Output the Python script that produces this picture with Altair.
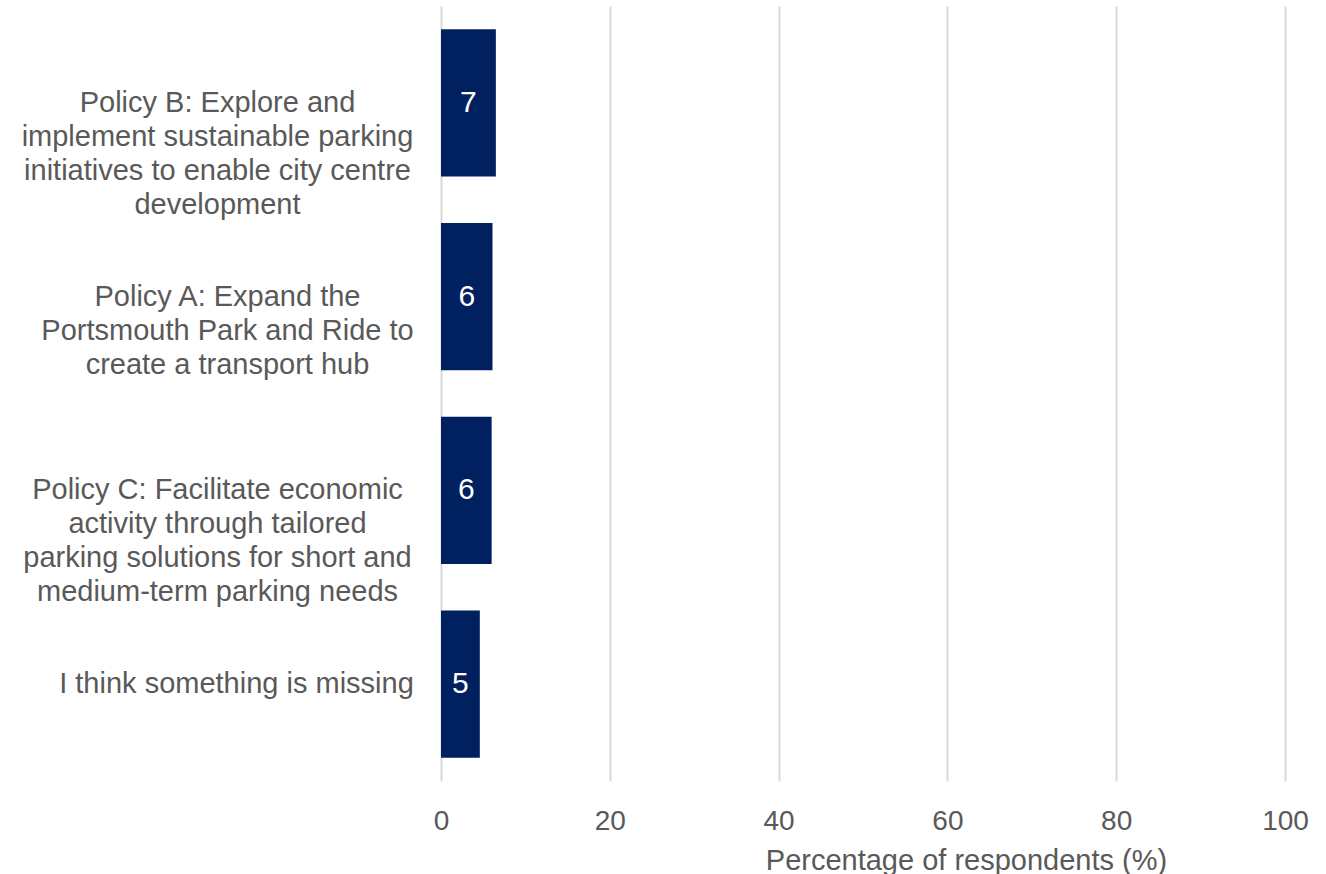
import altair as alt
import pandas as pd

categories = [
    "Policy B: Explore and|implement sustainable parking|initiatives to enable city centre|development",
    "Policy A: Expand the|Portsmouth Park and Ride to|create a transport hub",
    "Policy C: Facilitate economic|activity through tailored|parking solutions for short and|medium-term parking needs",
    "I think something is missing",
]
values = [6.5, 6.1, 6.0, 4.6]
labels = ["7", "6", "6", "5"]
tick_values = [0, 20, 40, 60, 80, 100]

df = pd.DataFrame({"category": categories, "value": values, "label": labels})

TEXT = "#595959"
BAR = "#002060"
FONT = "Liberation Sans"

pad_expr = (
    "indexof(datum.value, 'I think') == 0 ? 205 : "
    "(indexof(datum.value, 'Policy A') == 0 ? 214 : 224)"
)

y_enc = alt.Y(
    "category:N",
    sort=categories,
    scale=alt.Scale(paddingInner=0.24, paddingOuter=0.12),
    axis=alt.Axis(
        title=None,
        domain=False,
        ticks=False,
        grid=False,
        labelExpr="split(datum.label, '|')",
        labelAlign="center",
        labelBaseline="middle",
        labelPadding=alt.ExprRef(pad_expr),
        labelFontSize=29,
        labelLineHeight=34,
        labelColor=TEXT,
        labelFont=FONT,
        labelLimit=0,
    ),
)

x_scale = alt.Scale(domain=[0, 100], nice=False)

bars = alt.Chart(df).mark_bar(color=BAR).encode(
    x=alt.X(
        "value:Q",
        scale=x_scale,
        axis=alt.Axis(
            values=tick_values,
            title="Percentage of respondents (%)",
            titleFontSize=29,
            titleFontWeight="normal",
            titleColor=TEXT,
            titleFont=FONT,
            titleX=525,
            titleAnchor="start",
            titleAlign="center",
            titlePadding=11,
            labelFontSize=28,
            labelColor=TEXT,
            labelFont=FONT,
            labelPadding=26,
            labelFlush=False,
            labelOverlap=False,
            domain=False,
            ticks=False,
            grid=True,
            gridColor="#d9d9d9",
            gridWidth=2,
        ),
    ),
    y=y_enc,
)

text = alt.Chart(df).transform_calculate(
    mid="datum.value / 2"
).mark_text(
    color="white", fontSize=30, font=FONT, align="center", baseline="middle"
).encode(
    x=alt.X("mid:Q", scale=x_scale),
    y=alt.Y("category:N", sort=categories),
    text="label:N",
)

chart = alt.layer(bars, text).properties(
    width=844,
    height=775,
    background="white",
    autosize=alt.AutoSizeParams(type="none"),
    padding={"left": 441, "top": 6, "right": 41, "bottom": 93},
).configure_view(stroke=None)

chart.save("out.html", embed_options={"renderer": "svg", "actions": False})
